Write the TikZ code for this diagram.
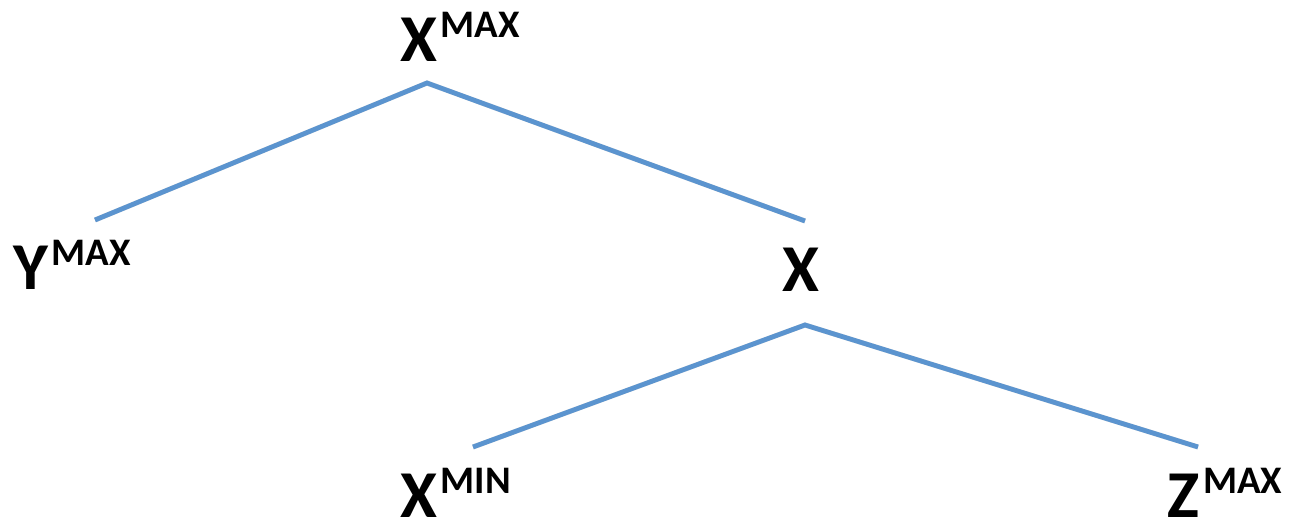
\documentclass[tikz,border=0pt]{standalone}
\usepackage{fontspec}
\setmainfont{Carlito}
\definecolor{linkblue}{RGB}{91,148,207}
\newcommand{\treelabel}[2]{{\fontsize{67}{67}\selectfont\bfseries #1}\kern4pt\raisebox{24pt}{\fontsize{39}{39}\selectfont\bfseries #2}}
\tikzset{
  lbl/.style={inner sep=0pt, outer sep=0pt, anchor=base west},
  branch/.style={draw=linkblue, line width=4.8pt},
  shadowline/.style={draw=black, opacity=0.14, line width=5pt}
}
\begin{document}
\begin{tikzpicture}[x=1pt,y=1pt]
\useasboundingbox (0,0) rectangle (1289,522);
\node[lbl] (xmax) at (400,460) {\treelabel{X}{MAX}};
\node[lbl] (ymax) at (13,232) {\treelabel{Y}{MAX}};
\node[inner sep=0pt, anchor=base] (xbar) at (801,230) {{\fontsize{67}{67}\selectfont\bfseries X}};
\node[lbl] (xmin) at (400,5) {\treelabel{X}{MIN}};
\node[lbl] (zmax) at (1167,5) {\treelabel{Z}{MAX}};
\coordinate (top) at (427,439);
\coordinate (yend) at (95,302);
\coordinate (xend) at (805,301);
\coordinate (mid) at (805,197);
\coordinate (minend) at (473,75);
\coordinate (zend) at (1198,75);
\begin{scope}[shift={(1pt,-2pt)}]
\draw[shadowline] (yend) -- (top) -- (xend);
\draw[shadowline] (minend) -- (mid) -- (zend);
\end{scope}
\draw[branch] (yend) -- (top) -- (xend);
\draw[branch] (minend) -- (mid) -- (zend);
\end{tikzpicture}
\end{document}
